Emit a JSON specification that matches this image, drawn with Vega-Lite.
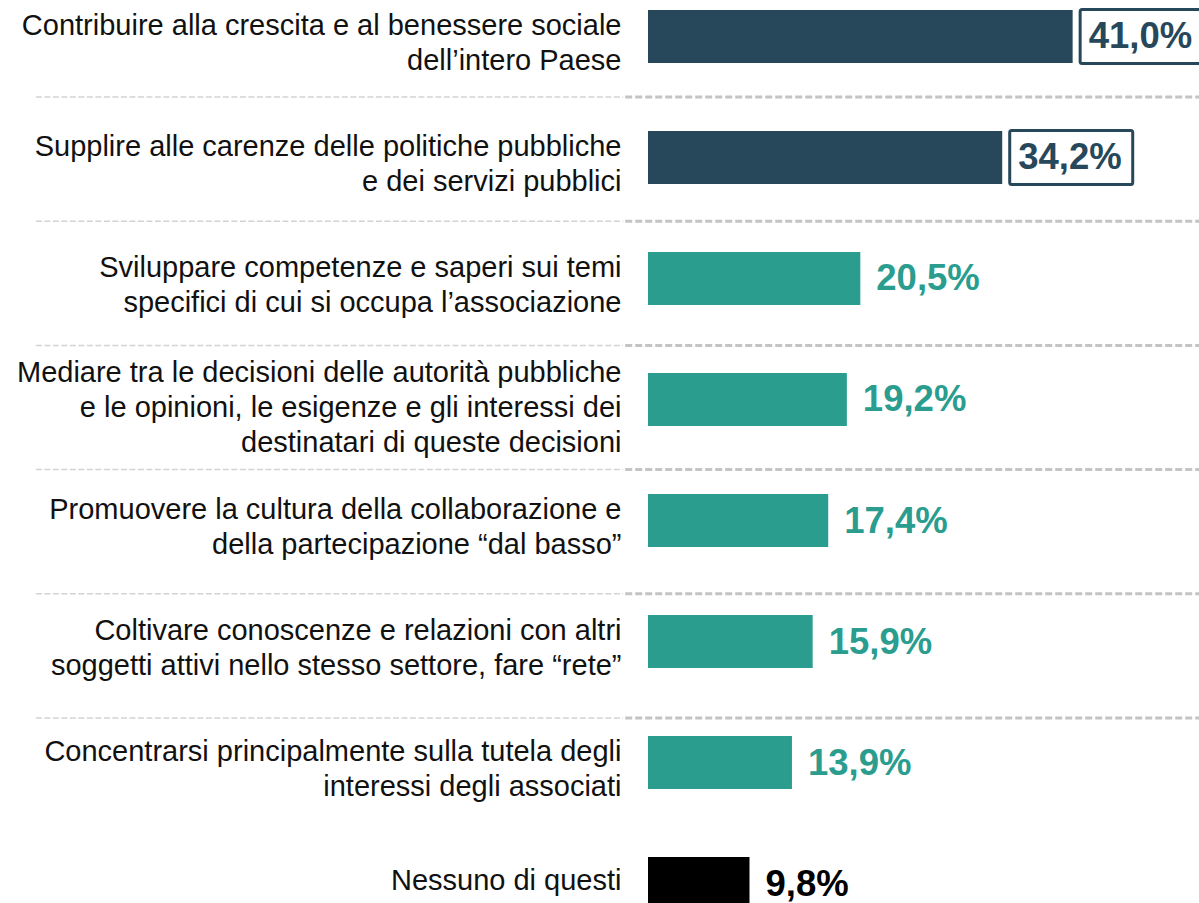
{
  "$schema": "https://vega.github.io/schema/vega-lite/v6.json",
  "autosize": "none",
  "padding": {"left": 648, "top": 0, "right": 0, "bottom": 0},
  "width": 551,
  "height": 903,
  "background": "white",
  "config": {"view": {"stroke": null}, "font": "Liberation Sans"},
  "data": {
    "values": [
      {"ordine": 1, "voce": "Contribuire alla crescita e al benessere sociale|dell’intero Paese", "valore": 41.0, "testo": "41,0%", "gruppo": "evidenza"},
      {"ordine": 2, "voce": "Supplire alle carenze delle politiche pubbliche|e dei servizi pubblici", "valore": 34.2, "testo": "34,2%", "gruppo": "evidenza"},
      {"ordine": 3, "voce": "Sviluppare competenze e saperi sui temi|specifici di cui si occupa l’associazione", "valore": 20.5, "testo": "20,5%", "gruppo": "altro"},
      {"ordine": 4, "voce": "Mediare tra le decisioni delle autorità pubbliche|e le opinioni, le esigenze e gli interessi dei|destinatari di queste decisioni", "valore": 19.2, "testo": "19,2%", "gruppo": "altro"},
      {"ordine": 5, "voce": "Promuovere la cultura della collaborazione e|della partecipazione “dal basso”", "valore": 17.4, "testo": "17,4%", "gruppo": "altro"},
      {"ordine": 6, "voce": "Coltivare conoscenze e relazioni con altri|soggetti attivi nello stesso settore, fare “rete”", "valore": 15.9, "testo": "15,9%", "gruppo": "altro"},
      {"ordine": 7, "voce": "Concentrarsi principalmente sulla tutela degli|interessi degli associati", "valore": 13.9, "testo": "13,9%", "gruppo": "altro"},
      {"ordine": 8, "voce": "Nessuno di questi", "valore": 9.8, "testo": "9,8%", "gruppo": "nessuno"}
    ]
  },
  "layer": [
    {
      "transform": [{"filter": "datum.ordine <= 6"}],
      "mark": {"type": "rule", "color": "#d3d3d3", "strokeWidth": 1.5, "strokeDash": [6, 2.5]},
      "encoding": {
        "y": {"field": "ordine", "type": "quantitative", "scale": {"domain": [1, 6], "range": [97, 718]}, "axis": null},
        "x": {"datum": -59.1, "type": "quantitative", "scale": {"domain": [0, 53.2]}, "axis": null},
        "x2": {"datum": -2.4}
      }
    },
    {
      "transform": [{"filter": "datum.ordine <= 6"}],
      "mark": {"type": "rule", "color": "#c4c4c4", "strokeWidth": 3, "strokeDash": [7, 3]},
      "encoding": {
        "y": {"field": "ordine", "type": "quantitative", "scale": {"domain": [1, 6], "range": [97, 718]}, "axis": null},
        "x": {"datum": -2.2, "type": "quantitative", "scale": {"domain": [0, 53.2]}, "axis": null},
        "x2": {"datum": 54}
      }
    },
    {
      "layer": [
        {
          "mark": {"type": "bar"},
          "encoding": {
            "color": {"field": "gruppo", "type": "nominal", "scale": {"domain": ["evidenza", "altro", "nessuno"], "range": ["#27485a", "#2a9d8f", "#000000"]}, "legend": null}
          }
        },
        {
          "transform": [{"filter": "datum.gruppo === 'evidenza'"}],
          "mark": {"type": "bar", "height": 54, "fill": "#ffffff", "stroke": "#27485a", "strokeWidth": 3, "cornerRadius": 2, "xOffset": 7.5, "x2Offset": 130.5},
          "encoding": {
            "x2": {"field": "valore"}
          }
        },
        {
          "mark": {"type": "text", "align": "left", "baseline": "middle", "dx": 16, "dy": 1, "fontSize": 36.5, "fontWeight": "bold", "font": "Liberation Sans"},
          "encoding": {
            "text": {"field": "testo"},
            "color": {"field": "gruppo", "type": "nominal", "scale": {"domain": ["evidenza", "altro", "nessuno"], "range": ["#27485a", "#2a9d8f", "#000000"]}, "legend": null}
          }
        }
      ],
      "encoding": {
        "y": {
          "field": "voce", "type": "nominal", "sort": null,
          "scale": {"range": [0, 920], "paddingInner": 0.562, "paddingOuter": 0.0826},
          "axis": {
            "title": null, "ticks": false, "domain": false, "grid": false,
            "labelExpr": "split(datum.label, '|')",
            "labelFont": "Liberation Sans", "labelFontSize": 29, "labelColor": "#111111",
            "labelLineHeight": 35, "labelPadding": 27, "labelLimit": 700,
            "labelAlign": "right", "labelBaseline": "middle",
            "labelOffset": {
              "condition": [
                {"test": "length(split(datum.value, '|')) === 3", "value": -26.5},
                {"test": "length(split(datum.value, '|')) === 2", "value": -10.5}
              ],
              "value": -3
            }
          }
        },
        "x": {"field": "valore", "type": "quantitative", "scale": {"domain": [0, 53.2]}, "axis": null}
      }
    }
  ],
  "resolve": {"scale": {"y": "independent"}, "axis": {"y": "independent"}}
}
